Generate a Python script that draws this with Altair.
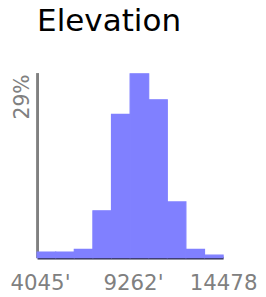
import altair as alt
import pandas as pd

bin_start = [4045, 5088, 6132, 7175, 8218, 9262, 10305, 11348, 12391, 13435]
bin_end = [5088, 6132, 7175, 8218, 9262, 10305, 11348, 12391, 13435, 14478]
percent = [0.9, 0.9, 1.3, 7.4, 22.6, 29.0, 24.9, 8.8, 1.3, 0.4]
x_ticks = [4045, 9262, 14478]
y_ticks = [29]

df = pd.DataFrame({"start": bin_start, "end": bin_end, "pct": percent})

chart = alt.Chart(df).mark_rect(color="#8080ff", stroke="#8080ff", strokeWidth=1.2).encode(
    x=alt.X("start:Q", scale=alt.Scale(domain=[4045, 14478], nice=False, zero=False),
            axis=alt.Axis(values=x_ticks, title=None, grid=False, ticks=False,
                          labelExpr="datum.value + \"'\"", labelFont="DejaVu Sans",
                          labelFontSize=22, labelColor="#808080", labelPadding=16,
                          labelOffset=3,
                          domainColor="#2a2a48", domainWidth=3, labelOverlap=False,
                          labelFlush=False)),
    x2="end:Q",
    y=alt.Y("pct:Q", scale=alt.Scale(domain=[0, 29.2], nice=False),
            axis=alt.Axis(values=y_ticks, title=None, grid=False, ticks=False,
                          labelExpr="datum.value + '%'", labelFont="DejaVu Sans",
                          labelFontSize=21, labelColor="#808080", labelAngle=-90,
                          labelAlign="right", labelBaseline="bottom", labelPadding=5,
                          domainColor="#808080", domainWidth=3, labelFlush=False)),
).properties(
    width=192,
    height=191,
    title=alt.TitleParams("Elevation", anchor="start", frame="group", font="DejaVu Sans",
                          fontSize=32, fontWeight="normal", color="#000000", offset=36),
    autosize=alt.AutoSizeParams(type="none"),
    padding={"left": 30, "top": 62, "right": 36, "bottom": 38},
).configure_view(stroke=None)

chart.save("out.html", embed_options={"renderer": "svg", "actions": False})
